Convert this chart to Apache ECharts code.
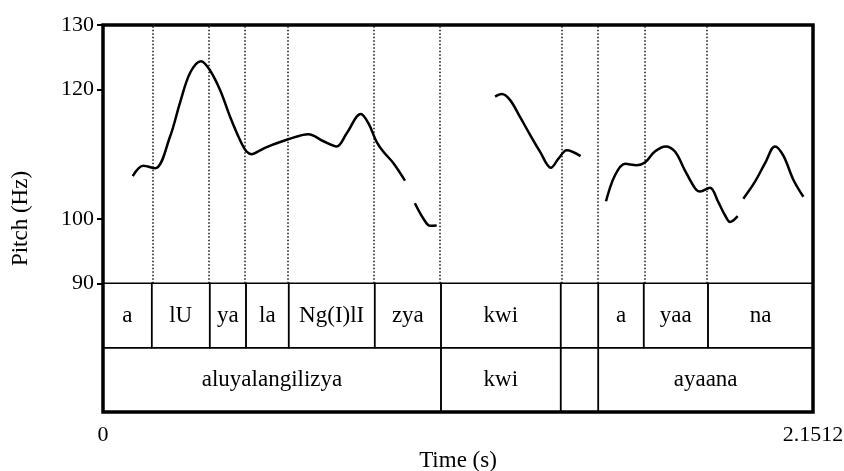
<!DOCTYPE html>
<html>
<head>
<meta charset="utf-8">
<script src="https://cdn.jsdelivr.net/npm/echarts@6/dist/echarts.min.js"></script>
<style>html,body{margin:0;padding:0;background:#fff}#c{width:844px;height:471px}</style>
</head>
<body>
<div id="c"></div>
<script>
// ---- data ----
var tMax = 2.1512;
var pitchTicks = [90, 100, 120, 130];
var timeTicks = [0, 2.1512];
var pitchTimes = [
  0.090,0.122,0.158,0.203,0.233,0.264,0.297,0.324,0.355,0.385,0.415,0.435,0.451,0.476,0.496,0.561,0.622,0.668,0.708,0.738,0.781,0.804,0.829,0.849,0.880,0.915,
  0.930,
  0.945,0.971,0.991,1.011,
  1.100,
  1.188,1.208,1.233,1.263,1.294,1.324,1.357,1.380,1.405,1.447,
  1.480,
  1.524,1.551,1.582,1.617,1.642,1.672,1.705,1.733,1.763,1.794,1.809,1.839,1.864,1.885,1.900,1.923,
  1.932,
  1.940,1.975,2.006,2.036,2.061,2.092,2.122
];
var pitchHz = [
  106.6,108.2,107.8,112.7,117.9,122.6,124.4,123.0,119.9,115.8,112.2,110.4,110.0,110.6,111.1,112.3,113.1,112.0,111.2,113.2,116.2,114.8,111.9,110.4,108.6,105.9,
  null,
  102.4,100.0,98.9,98.95,
  null,
  118.9,119.3,118.4,115.8,113.0,110.4,107.9,109.3,110.6,109.7,
  null,
  102.7,106.7,108.5,108.3,108.7,110.4,111.2,110.4,107.5,104.7,104.2,104.8,102.6,100.5,99.5,100.4,
  null,
  103.1,105.7,108.6,111.2,109.8,106.0,103.4
];
var tier1Bounds = [0, 0.1476, 0.3233, 0.4333, 0.5626, 0.8232, 1.0241, 1.3867, 1.5007, 1.6382, 1.8330, 2.1512];
var tier1Labels = ['a', 'lU', 'ya', 'la', 'Ng(I)lI', 'zya', 'kwi', '', 'a', 'yaa', 'na'];
var tier2Bounds = [0, 1.0241, 1.3867, 1.5007, 2.1512];
var tier2Labels = ['aluyalangilizya', 'kwi', '', 'ayaana'];

// ---- build ----
var FONT = '"Liberation Serif", "Times New Roman", serif';
var lineData = pitchTimes.map(function (t, i) { return [t, pitchHz[i] == null ? '-' : pitchHz[i]]; });
var tierData = [], tierText = [];
for (var i = 0; i < tier1Labels.length; i++) { tierData.push([tier1Bounds[i], tier1Bounds[i + 1], 0]); tierText.push(tier1Labels[i]); }
for (var j = 0; j < tier2Labels.length; j++) { tierData.push([tier2Bounds[j], tier2Bounds[j + 1], 1]); tierText.push(tier2Labels[j]); }
var dotted = tier1Bounds.slice(1, -1).map(function (b) { return { xAxis: b }; });

var chart = echarts.init(document.getElementById('c'), null, { renderer: 'canvas' });
chart.setOption({
  animation: false,
  backgroundColor: '#fff',
  grid: [
    { left: 103, top: 25, width: 710, height: 258.3, outerBoundsMode: 'none', containLabel: false },
    { left: 103, top: 283.3, width: 710, height: 128.7, outerBoundsMode: 'none', containLabel: false },
    { left: 103, top: 25, width: 710, height: 387, show: true, borderColor: '#000', borderWidth: 3.5, backgroundColor: 'transparent', z: 10, outerBoundsMode: 'none', containLabel: false }
  ],
  xAxis: [
    { gridIndex: 0, type: 'value', min: 0, max: tMax, show: false },
    { gridIndex: 1, type: 'value', min: 0, max: tMax,
      axisLine: { show: false }, axisTick: { show: false }, splitLine: { show: false },
      axisLabel: { customValues: timeTicks, margin: 12, color: '#000', fontFamily: FONT, fontSize: 22,
        formatter: function (v) { return v === 0 ? '0' : String(v); } },
      name: 'Time (s)', nameLocation: 'middle', nameGap: 37,
      nameTextStyle: { color: '#000', fontFamily: FONT, fontSize: 23 } },
    { gridIndex: 2, type: 'value', min: 0, max: 1, show: false }
  ],
  yAxis: [
    { gridIndex: 0, type: 'value', min: 90, max: 130,
      axisLine: { show: false }, splitLine: { show: false },
      axisTick: { show: true, customValues: pitchTicks, length: 6, lineStyle: { color: '#000', width: 2 } },
      axisLabel: { customValues: pitchTicks, margin: 9, color: '#000', fontFamily: FONT, fontSize: 22 } },
    { gridIndex: 1, type: 'value', min: 0, max: 2, show: false },
    { gridIndex: 2, type: 'value', min: 0, max: 1,
      axisLine: { show: false }, axisTick: { show: false }, axisLabel: { show: false }, splitLine: { show: false },
      name: 'Pitch (Hz)', nameLocation: 'middle', nameRotate: 90, nameGap: 71,
      nameTextStyle: { color: '#000', fontFamily: FONT, fontSize: 23 } }
  ],
  series: [
    {
      type: 'line', xAxisIndex: 0, yAxisIndex: 0, data: lineData, showSymbol: false, smooth: 0.35,
      connectNulls: false, lineStyle: { color: '#000', width: 2.5 }, z: 5,
      markLine: { silent: true, symbol: ['none', 'none'], label: { show: false },
        lineStyle: { color: '#111', width: 1.5, type: [1.5, 2] }, data: dotted }
    },
    {
      type: 'custom', xAxisIndex: 1, yAxisIndex: 1, data: tierData,
      renderItem: function (params, api) {
        var s = api.value(0), e = api.value(1), r = api.value(2);
        var p0 = api.coord([s, 2 - r]);
        var p1 = api.coord([e, 1 - r]);
        return { type: 'group', children: [
          { type: 'rect', shape: { x: p0[0], y: p0[1], width: p1[0] - p0[0], height: p1[1] - p0[1] },
            style: { fill: 'none', stroke: '#000', lineWidth: 1.5 } },
          { type: 'text', style: { text: tierText[params.dataIndex], x: (p0[0] + p1[0]) / 2, y: (p0[1] + p1[1]) / 2,
            align: 'center', verticalAlign: 'middle', fontFamily: FONT, fontSize: 23, fill: '#000' } }
        ] };
      }
    }
  ]
});
</script>
</body>
</html>
